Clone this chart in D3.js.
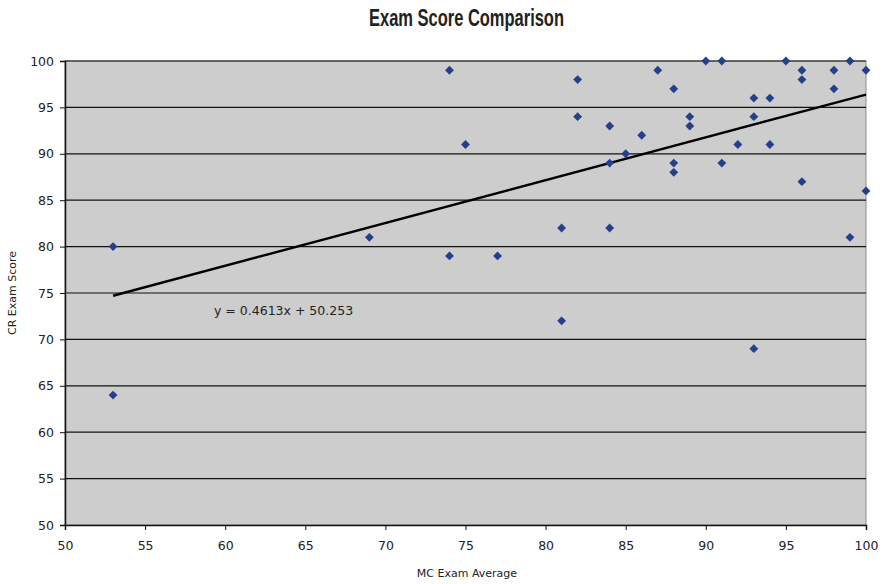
<!DOCTYPE html>
<html>
<head>
<meta charset="utf-8">
<script src="https://cdn.jsdelivr.net/npm/d3@7"></script>
<style>
  body { margin: 0; background: #fff; }
  .tick text { font-family: "DejaVu Sans", sans-serif; font-size: 12.5px; fill: #222; }
</style>
</head>
<body>
<div class="chart"></div>
<script>
// MC exam average (x) and CR exam score (y)
var mcScores = [53, 53, 69, 74, 74, 75, 77, 81, 81, 82, 82, 84, 84, 84, 85, 86, 87,
  88, 88, 88, 89, 89, 90, 91, 91, 92, 93, 93, 93, 94, 94, 95, 96, 96, 96, 98, 98, 99, 99, 100, 100];
var crScores = [80, 64, 81, 99, 79, 91, 79, 82, 72, 98, 94, 93, 89, 82, 90, 92, 99,
  97, 89, 88, 94, 93, 100, 100, 89, 91, 96, 94, 69, 96, 91, 100, 99, 98, 87, 99, 97, 100, 81, 99, 86];
var xTicks = [50, 55, 60, 65, 70, 75, 80, 85, 90, 95, 100];
var yTicks = [50, 55, 60, 65, 70, 75, 80, 85, 90, 95, 100];
var slope = 0.4613;
var intercept = 50.253;

var svgWidth = 883;
var svgHeight = 584;
var margin = { top: 61, right: 17, bottom: 59, left: 65 };
var width = svgWidth - margin.left - margin.right;
var height = svgHeight - margin.top - margin.bottom;

var svg = d3.select(".chart")
  .append("svg")
  .attr("width", svgWidth)
  .attr("height", svgHeight);

var chartGroup = svg.append("g")
  .attr("transform", `translate(${margin.left}, ${margin.top})`);

var xScale = d3.scaleLinear().domain([50, 100]).range([0, width]);
var yScale = d3.scaleLinear().domain([50, 100]).range([height, 0]);

// plot background
chartGroup.append("rect")
  .attr("width", width)
  .attr("height", height)
  .attr("fill", "#cdcdcd")
  .attr("stroke", "#8c8c8c");

// gridlines
chartGroup.selectAll(".grid")
  .data(yTicks.slice(1))
  .enter()
  .append("line")
  .attr("x1", 0)
  .attr("x2", width)
  .attr("y1", d => yScale(d))
  .attr("y2", d => yScale(d))
  .attr("stroke", "#111")
  .attr("stroke-width", 1.2);

// axes
var bottomAxis = d3.axisBottom(xScale).tickValues(xTicks).tickSize(5).tickPadding(11);
var leftAxis = d3.axisLeft(yScale).tickValues(yTicks).tickSize(5).tickPadding(6);

var gx = chartGroup.append("g")
  .attr("transform", `translate(0, ${height})`)
  .call(bottomAxis);
var gy = chartGroup.append("g").call(leftAxis);
[gx, gy].forEach(function(g) {
  g.select(".domain").attr("stroke", "#111").attr("stroke-width", 1.5);
  g.selectAll(".tick line").attr("stroke", "#111");
});

// trendline
var trendX = [d3.min(mcScores), d3.max(mcScores)];
chartGroup.append("line")
  .attr("x1", xScale(trendX[0]))
  .attr("y1", yScale(slope * trendX[0] + intercept))
  .attr("x2", xScale(trendX[1]))
  .attr("y2", yScale(slope * trendX[1] + intercept))
  .attr("stroke", "#000")
  .attr("stroke-width", 2.4);

// diamond markers
var diamond = d3.symbol().type(d3.symbolDiamond2).size(50);
chartGroup.selectAll(".pt")
  .data(mcScores)
  .enter()
  .append("path")
  .attr("d", diamond)
  .attr("transform", (d, i) => `translate(${xScale(d)}, ${yScale(crScores[i])})`)
  .attr("fill", "#263f8a");

// equation label
chartGroup.append("text")
  .attr("x", xScale(59.3))
  .attr("y", yScale(72.6))
  .attr("font-family", "DejaVu Sans, sans-serif")
  .attr("font-size", 12.5)
  .attr("fill", "#222")
  .text(`y = ${slope}x + ${intercept}`);

// titles
svg.append("text")
  .attr("x", 369)
  .attr("y", 26)
  .attr("textLength", 195)
  .attr("lengthAdjust", "spacingAndGlyphs")
  .attr("font-family", "Liberation Sans, Arial, sans-serif")
  .attr("font-weight", "bold")
  .attr("font-size", 24)
  .attr("fill", "#222")
  .text("Exam Score Comparison");

svg.append("text")
  .attr("x", 467)
  .attr("y", 577)
  .attr("text-anchor", "middle")
  .attr("font-family", "DejaVu Sans, sans-serif")
  .attr("font-size", 11)
  .attr("fill", "#222")
  .text("MC Exam Average");

svg.append("text")
  .attr("transform", "rotate(-90)")
  .attr("x", -293)
  .attr("y", 16)
  .attr("text-anchor", "middle")
  .attr("font-family", "DejaVu Sans, sans-serif")
  .attr("font-size", 11)
  .attr("fill", "#222")
  .text("CR Exam Score");
</script>
</body>
</html>
